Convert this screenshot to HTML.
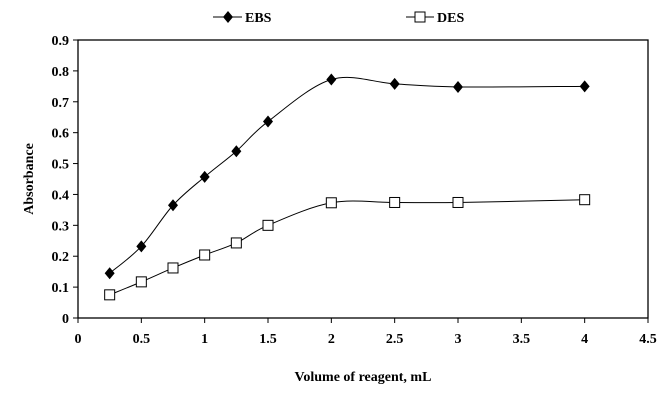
<!DOCTYPE html>
<html><head><meta charset="utf-8"><style>
body{margin:0;background:#fff}
svg text{font-family:"Liberation Serif",serif;font-weight:bold;font-size:14px;fill:#000}
</style></head><body>
<svg id="chart" width="662" height="401">
<g id="legend">
 <g>
  <line x1="213" y1="17" x2="242" y2="17" stroke="#000" stroke-width="1"/>
  <path d="M228 11 L233 17 L228 23 L223 17 Z" fill="#000"/>
  <text x="245" y="22">EBS</text>
 </g>
 <g>
  <line x1="406" y1="17" x2="434" y2="17" stroke="#000" stroke-width="1"/>
  <rect x="415" y="12" width="10" height="10" fill="#fff" stroke="#000"/>
  <text x="437" y="22">DES</text>
 </g>
</g>
<rect x="78" y="40" width="570" height="278" fill="none" stroke="#000" stroke-width="1.3"/>
<g id="axes"></g>
<g id="series"></g>
<text x="363" y="381" text-anchor="middle">Volume of reagent, mL</text>
<text transform="translate(33,179) rotate(-90)" text-anchor="middle">Absorbance</text>
</svg>
<script>
const xValues=[0.25,0.5,0.75,1,1.25,1.5,2,2.5,3,4];
const ebsValues=[0.145,0.232,0.365,0.457,0.54,0.636,0.772,0.758,0.748,0.75];
const desValues=[0.075,0.117,0.162,0.204,0.243,0.3,0.373,0.374,0.374,0.383];
const xTicks=["0","0.5","1","1.5","2","2.5","3","3.5","4","4.5"];
const yTicks=["0","0.1","0.2","0.3","0.4","0.5","0.6","0.7","0.8","0.9"];
const X0=78,X1=648,Y0=318,Y1=40,XMAX=4.5,YMAX=0.9;
const sx=v=>X0+(X1-X0)*v/XMAX, sy=v=>Y0-(Y0-Y1)*v/YMAX;
const NS="http://www.w3.org/2000/svg";
const axes=document.getElementById('axes'), ser=document.getElementById('series');
function mk(t,a,p){const e=document.createElementNS(NS,t);for(const k in a)e.setAttribute(k,a[k]);p.appendChild(e);return e;}
xTicks.forEach(t=>{const x=sx(parseFloat(t));
 mk('line',{x1:x,y1:Y0,x2:x,y2:Y0+5,stroke:'#000'},axes);
 const e=mk('text',{x:x,y:Y0+25,'text-anchor':'middle'},axes);e.textContent=t;
 
 });
yTicks.forEach(t=>{const y=sy(parseFloat(t));
 mk('line',{x1:X0-5,y1:y,x2:X0,y2:y,stroke:'#000'},axes);
 const e=mk('text',{x:X0-9,y:y+5,'text-anchor':'end'},axes);e.textContent=t;
 
 });
function smooth(pts){let d=`M${pts[0][0]} ${pts[0][1]}`;
 for(let i=0;i<pts.length-1;i++){const p0=pts[i-1]||pts[i],p1=pts[i],p2=pts[i+1],p3=pts[i+2]||p2;
  d+=` C${p1[0]+(p2[0]-p0[0])/6} ${p1[1]+(p2[1]-p0[1])/6} ${p2[0]-(p3[0]-p1[0])/6} ${p2[1]-(p3[1]-p1[1])/6} ${p2[0]} ${p2[1]}`;}
 return d;}
function draw(vals,name,diamond){
 const pts=xValues.map((x,i)=>[sx(x),sy(vals[i])]);
 const p=mk('path',{d:smooth(pts),fill:'none',stroke:'#000','stroke-width':1},ser);
 
 
 pts.forEach(([x,y])=>{let m;
  if(diamond)m=mk('path',{d:`M${x} ${y-6}L${x+5} ${y}L${x} ${y+6}L${x-5} ${y}Z`,fill:'#000'},ser);
  else m=mk('rect',{x:x-5,y:y-5,width:10,height:10,fill:'#fff',stroke:'#000'},ser);
  
  });
}
draw(ebsValues,'ebs',true);
draw(desValues,'des',false);
</script>
</body></html>
